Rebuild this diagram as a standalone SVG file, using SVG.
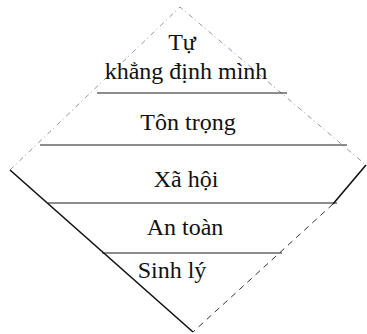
<svg xmlns="http://www.w3.org/2000/svg" width="367" height="334" viewBox="0 0 367 334">
<style>
.t{font-family:"Liberation Serif","Times New Roman",serif;font-size:24px;fill:#111;text-anchor:middle}
.h{stroke:#1a1a1a;stroke-width:1.2;fill:none}
.faint{stroke:#8a8a8a;stroke-width:0.9;fill:none;stroke-dasharray:5 3 1 4}
.solid{stroke:#111;stroke-width:1.6;fill:none}
.dash{stroke:#333;stroke-width:1;fill:none;stroke-dasharray:6 5}
</style>
<rect width="367" height="334" fill="#fff"/>
<g id="outline">
<path class="faint" d="M10,170 L180,7 L366,165"/>
<path class="solid" d="M10,170 L193,332"/>
<path class="solid" d="M366,165 L333,204"/>
<path class="dash" d="M333,204 L193,332"/>
</g>
<g id="level-tu-khang-dinh">
<text class="t" x="182" y="50">Tự</text>
<text class="t" x="186" y="79">khẳng định mình</text>
<line class="h" x1="97" y1="93" x2="287" y2="93"/>
</g>
<g id="level-ton-trong">
<text class="t" x="188" y="130">Tôn trọng</text>
<line class="h" x1="40" y1="145" x2="347" y2="145"/>
</g>
<g id="level-xa-hoi">
<text class="t" x="186" y="187">Xã hội</text>
<line class="h" x1="48" y1="203" x2="337" y2="203"/>
</g>
<g id="level-an-toan">
<text class="t" x="185" y="235">An toàn</text>
<line class="h" x1="102" y1="253" x2="282" y2="253"/>
</g>
<g id="level-sinh-ly">
<text class="t" x="172" y="278">Sinh lý</text>
</g>
</svg>
